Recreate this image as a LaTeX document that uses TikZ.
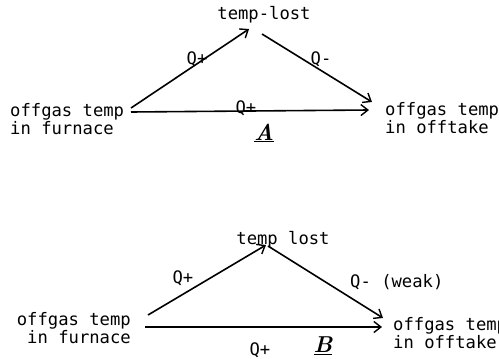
\documentclass[tikz,border=0pt]{standalone}
\usepackage{fontspec}
\setmonofont{DejaVu Sans Mono}
\usetikzlibrary{arrows.meta}
\begin{document}
\begin{tikzpicture}[x=1pt,y=-1pt,
  lbl/.style={font=\ttfamily\fontsize{17.2}{18.5}\selectfont, inner sep=0pt},
  lblL/.style={lbl, align=left, anchor=west},
  lblR/.style={lbl, align=right, anchor=east},
  conn/.style={line width=1.6pt, -{Straight Barb[length=7pt,width=11pt,line width=1.4pt]}},
  letter/.style={font=\fontsize{23}{23}\selectfont\bfseries\itshape, inner sep=1pt}]
\useasboundingbox (0,0) rectangle (499,359);
% ---- diagram A ----
\node[lbl] (tlA) at (264,15) {temp-lost};
\node[lblL] (fA) at (10,119) {offgas temp\\in furnace};
\node[lblL] (oA) at (385,118) {offgas temp\\in offtake};
\coordinate (fA1) at (131,108);
\coordinate (fA2) at (131,112);
\coordinate (tA1) at (249,29);
\coordinate (tA2) at (262,34);
\coordinate (oA1) at (372,102);
\coordinate (oA2) at (369,110);
\draw[conn] (fA1) -- (tA1);
\node[lbl] (qA1) at (197,59) {Q+};
\draw[conn] (tA2) -- (oA1);
\node[lbl] (qA2) at (321,59) {Q-};
\draw[conn] (fA2) -- (oA2);
\node[lbl] (qA3) at (246,108) {Q+};
\node[letter] (A) at (264,133) {\underline{A}};
% ---- diagram B ----
\node[lbl] (tlB) at (283,240) {temp lost};
\node[lblR] (fB) at (131,328) {offgas temp\\in furnace};
\node[lblL] (oB) at (393,333) {offgas temp\\in offtake};
\coordinate (fB1) at (148,315);
\coordinate (fB2) at (145,327);
\coordinate (tB1) at (266,245);
\coordinate (tB2) at (268,246);
\coordinate (oB1) at (383,318);
\coordinate (oB2) at (382,327);
\draw[conn] (fB1) -- (tB1);
\node[lbl] (qB1) at (183,278) {Q+};
\draw[conn] (tB2) -- (oB1);
\node[lbl, anchor=west] (wk) at (350,282) {Q- (weak)};
\draw[conn] (fB2) -- (oB2);
\node[lbl] (qB) at (260,350) {Q+};
\node[letter] (B) at (323,346) {\underline{B}};
\end{tikzpicture}
\end{document}
